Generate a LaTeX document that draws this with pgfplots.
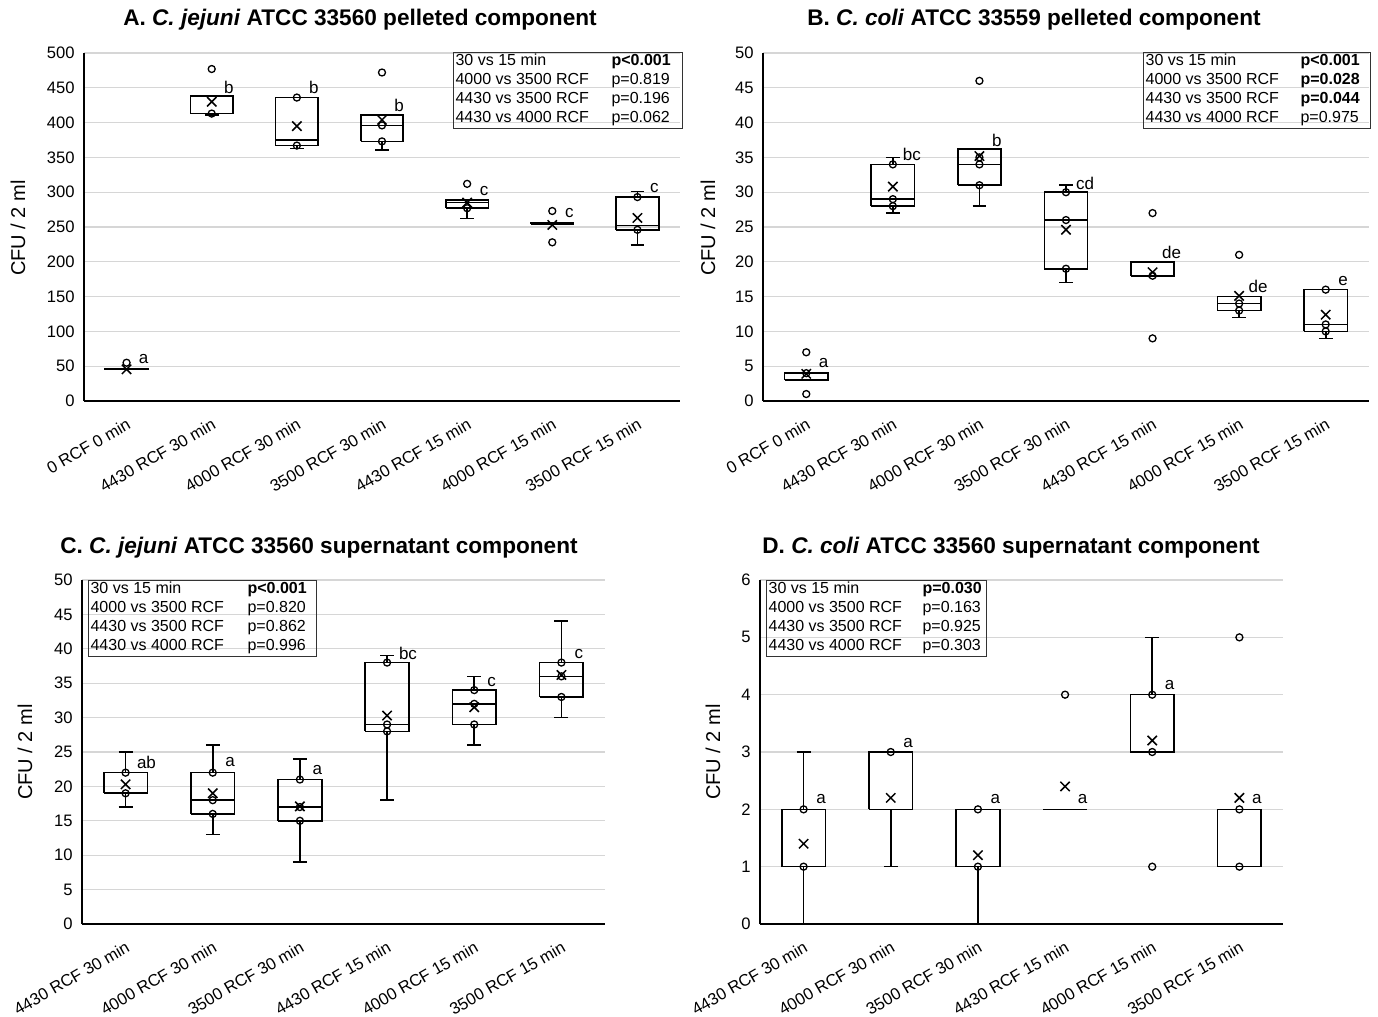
\documentclass[border=0pt]{standalone}
\usepackage{fontspec}
\setmainfont{Liberation Sans}
\usepackage{pgfplots}
\pgfplotsset{compat=1.18}

\pgfplotsset{
 cfubox/.style={
  scale only axis,
  axis x line=bottom, axis y line=left,
  axis line style={-, black, line width=0.7pt},
  ymajorgrids, grid style={black!16, line width=0.6pt},
  major tick length=0pt,
  xtick={0,...,6},
  ticklabel style={font=\fontsize{8.3}{10}\selectfont},
  /pgf/number format/assume math mode=true,
  xticklabel style={yshift=-6.5pt, rotate=30, anchor=north east, inner sep=1pt},
  yticklabel style={inner sep=2pt, xshift=-2.5pt},
  unbounded coords=jump,
  clip=false,
 },
 bl/.style={black, line width=0.8pt, solid, mark=none},
 pts/.style={only marks, mark=o, mark size=1.75pt, black, line width=0.65pt},
 mean/.style={only marks, mark=x, mark size=3.3pt, black, line width=0.75pt},
}
\tikzset{lt/.style={font=\fontsize{8.5}{10}\selectfont, inner sep=0pt, anchor=center}}
% box: #1 position, #2 lower whisker, #3 lower quartile, #4 median, #5 upper quartile, #6 upper whisker
\newcommand\bp[6]{\addplot[bl, x filter/.expression={x+#1}] coordinates {(-0.25,#3) (0.25,#3) (0.25,#5) (-0.25,#5) (-0.25,#3) (-0.25,nan) (-0.25,#4) (0.25,#4) (0,nan) (0,#3) (0,#2) (0,nan) (0,#5) (0,#6)};}
% whisker caps: #1 position, #2 value
\newcommand\cp[2]{\addplot[bl, x filter/.expression={x+#1}] coordinates {(-0.08,#2) (0.08,#2)};}
\newcommand\ptabx[4]{\node[draw=black!80, line width=0.6pt, inner sep=0pt, anchor=north west, font=\fontsize{8}{9.5}\selectfont, align=left] at #3 {\begin{tabular}{@{\hspace{1pt}}p{#1}@{}p{#2}@{}}#4\end{tabular}};}

\begin{document}
\begin{tikzpicture}
\useasboundingbox (0,0) rectangle (689pt,-508.5pt);

% ---------------- Panel A ----------------
\begin{axis}[cfubox, at={(42pt,-200.5pt)}, anchor=south west,
  width=298pt, height=174pt, xmin=-0.5, xmax=6.5, ymin=0, ymax=500, ytick={0,50,...,500},
  xticklabels={0 RCF 0 min, 4430 RCF 30 min, 4000 RCF 30 min, 3500 RCF 30 min, 4430 RCF 15 min, 4000 RCF 15 min, 3500 RCF 15 min}]
\bp{0}{45}{45}{45.5}{46}{46}
\bp{1}{411}{413}{413}{438}{438} \cp{1}{411}
\bp{2}{363}{367}{375}{436}{436} \cp{2}{363}
\bp{3}{361}{373}{396}{411}{411} \cp{3}{361}
\bp{4}{262}{277}{285}{289}{289} \cp{4}{262}
\bp{5}{254}{254}{255}{256}{256}
\bp{6}{224}{246}{252}{293}{301} \cp{6}{224} \cp{6}{301}
\addplot[pts] coordinates {(0,55) (1,477) (1,413) (2,436) (2,367) (3,472) (3,396) (3,373) (4,312) (4,277) (5,273) (5,228) (6,293) (6,246)};
\addplot[mean] coordinates {(0,45.5) (1,430) (2,395) (3,404) (4,285) (5,253) (6,263)};
\node[lt] at (axis cs:0.2,60) {a};
\node[lt] at (axis cs:1.2,450) {b};
\node[lt] at (axis cs:2.2,450) {b};
\node[lt] at (axis cs:3.2,425) {b};
\node[lt] at (axis cs:4.2,302) {c};
\node[lt] at (axis cs:5.2,270) {c};
\node[lt] at (axis cs:6.2,306) {c};
\end{axis}

% ---------------- Panel B ----------------
\begin{axis}[cfubox, at={(381.5pt,-200.5pt)}, anchor=south west,
  width=303pt, height=174pt, xmin=-0.5, xmax=6.5, ymin=0, ymax=50, ytick={0,5,...,50},
  xticklabels={0 RCF 0 min, 4430 RCF 30 min, 4000 RCF 30 min, 3500 RCF 30 min, 4430 RCF 15 min, 4000 RCF 15 min, 3500 RCF 15 min}]
\bp{0}{3}{3}{4}{4}{4}
\bp{1}{27}{28}{29}{34}{35} \cp{1}{27} \cp{1}{35}
\bp{2}{28}{31}{34}{36.2}{36.2} \cp{2}{28}
\bp{3}{17}{19}{26}{30}{31} \cp{3}{17} \cp{3}{31}
\bp{4}{18}{18}{18}{20}{20}
\bp{5}{12}{13}{14}{15}{15} \cp{5}{12}
\bp{6}{9}{10}{11}{16}{16} \cp{6}{9}
\addplot[pts] coordinates {(0,7) (0,4) (0,1) (1,34) (1,29) (1,28) (2,46) (2,35) (2,34) (2,31) (3,30) (3,26) (3,19) (4,27) (4,18) (4,9) (5,21) (5,14) (5,13) (6,16) (6,11) (6,10)};
\addplot[mean] coordinates {(0,3.9) (1,30.8) (2,35.2) (3,24.6) (4,18.5) (5,15.1) (6,12.4)};
\node[lt] at (axis cs:0.2,5.45) {a};
\node[lt] at (axis cs:1.22,35.5) {bc};
\node[lt] at (axis cs:2.2,37.5) {b};
\node[lt] at (axis cs:3.22,31.3) {cd};
\node[lt] at (axis cs:4.22,21.4) {de};
\node[lt] at (axis cs:5.22,16.4) {de};
\node[lt] at (axis cs:6.2,17.2) {e};
\end{axis}

% ---------------- Panel C ----------------
\begin{axis}[cfubox, at={(41pt,-462pt)}, anchor=south west,
  width=261.5pt, height=172pt, xmin=-0.5, xmax=5.5, ymin=0, ymax=50, ytick={0,5,...,50}, xtick={0,...,5},
  xticklabels={4430 RCF 30 min, 4000 RCF 30 min, 3500 RCF 30 min, 4430 RCF 15 min, 4000 RCF 15 min, 3500 RCF 15 min}]
\bp{0}{17}{19}{19}{22}{25} \cp{0}{17} \cp{0}{25}
\bp{1}{13}{16}{18}{22}{26} \cp{1}{13} \cp{1}{26}
\bp{2}{9}{15}{17}{21}{24} \cp{2}{9} \cp{2}{24}
\bp{3}{18}{28}{29}{38}{39} \cp{3}{18} \cp{3}{39}
\bp{4}{26}{29}{32}{34}{36} \cp{4}{26} \cp{4}{36}
\bp{5}{30}{33}{36}{38}{44} \cp{5}{30} \cp{5}{44}
\addplot[pts] coordinates {(0,22) (0,19) (1,22) (1,18) (1,16) (2,21) (2,17) (2,15) (3,38) (3,29) (3,28) (4,34) (4,32) (4,29) (5,38) (5,36) (5,33)};
\addplot[mean] coordinates {(0,20.3) (1,19) (2,17.1) (3,30.3) (4,31.5) (5,36.2)};
\node[lt] at (axis cs:0.24,23.5) {ab};
\node[lt] at (axis cs:1.2,23.5) {a};
\node[lt] at (axis cs:2.2,22.4) {a};
\node[lt] at (axis cs:3.24,39.4) {bc};
\node[lt] at (axis cs:4.2,35.2) {c};
\node[lt] at (axis cs:5.2,39.2) {c};
\end{axis}

% ---------------- Panel D ----------------
\begin{axis}[cfubox, at={(380pt,-462pt)}, anchor=south west,
  width=261.5pt, height=172pt, xmin=-0.5, xmax=5.5, ymin=0, ymax=6, ytick={0,1,...,6}, xtick={0,...,5},
  xticklabels={4430 RCF 30 min, 4000 RCF 30 min, 3500 RCF 30 min, 4430 RCF 15 min, 4000 RCF 15 min, 3500 RCF 15 min}]
\bp{0}{0}{1}{1}{2}{3} \cp{0}{3}
\bp{1}{1}{2}{2}{3}{3} \cp{1}{1}
\bp{2}{0}{1}{1}{2}{2}
\bp{3}{2}{2}{2}{2}{2}
\bp{4}{3}{3}{3}{4}{5} \cp{4}{5}
\bp{5}{1}{1}{2}{2}{2}
\addplot[pts] coordinates {(0,2) (0,1) (1,3) (2,2) (2,1) (3,4) (4,4) (4,3) (4,1) (5,5) (5,2) (5,1)};
\addplot[mean] coordinates {(0,1.4) (1,2.2) (2,1.2) (3,2.4) (4,3.2) (5,2.2)};
\node[lt] at (axis cs:0.2,2.18) {a};
\node[lt] at (axis cs:1.2,3.16) {a};
\node[lt] at (axis cs:2.2,2.18) {a};
\node[lt] at (axis cs:3.2,2.18) {a};
\node[lt] at (axis cs:4.2,4.17) {a};
\node[lt] at (axis cs:5.2,2.18) {a};
\end{axis}

% titles
\node[font=\fontsize{11.3}{13}\selectfont\bfseries] at (180pt,-10pt) {A. \textit{C. jejuni} ATCC 33560 pelleted component};
\node[font=\fontsize{11.3}{13}\selectfont\bfseries] at (517pt,-10pt) {B. \textit{C. coli} ATCC 33559 pelleted component};
\node[font=\fontsize{11.3}{13}\selectfont\bfseries] at (159.5pt,-274pt) {C. \textit{C. jejuni} ATCC 33560 supernatant component};
\node[font=\fontsize{11.3}{13}\selectfont\bfseries] at (505.5pt,-274pt) {D. \textit{C. coli} ATCC 33560 supernatant component};
% y labels
\node[rotate=90, font=\fontsize{10}{12}\selectfont] at (9pt,-114pt) {CFU / 2 ml};
\node[rotate=90, font=\fontsize{10}{12}\selectfont] at (354pt,-114pt) {CFU / 2 ml};
\node[rotate=90, font=\fontsize{10}{12}\selectfont] at (12.5pt,-376pt) {CFU / 2 ml};
\node[rotate=90, font=\fontsize{10}{12}\selectfont] at (356.5pt,-376pt) {CFU / 2 ml};
% p-value boxes
\ptabx{78pt}{35.5pt}{(226.5pt,-26pt)}{30 vs 15 min & \textbf{p<0.001}\\ 4000 vs 3500 RCF & p=0.819\\ 4430 vs 3500 RCF & p=0.196\\ 4430 vs 4000 RCF & p=0.062}
\ptabx{77.5pt}{35pt}{(571.5pt,-26pt)}{30 vs 15 min & \textbf{p<0.001}\\ 4000 vs 3500 RCF & \textbf{p=0.028}\\ 4430 vs 3500 RCF & \textbf{p=0.044}\\ 4430 vs 4000 RCF & p=0.975}
\ptabx{78.5pt}{34.5pt}{(44pt,-290pt)}{30 vs 15 min & \textbf{p<0.001}\\ 4000 vs 3500 RCF & p=0.820\\ 4430 vs 3500 RCF & p=0.862\\ 4430 vs 4000 RCF & p=0.996}
\ptabx{77pt}{32pt}{(383pt,-290pt)}{30 vs 15 min & \textbf{p=0.030}\\ 4000 vs 3500 RCF & p=0.163\\ 4430 vs 3500 RCF & p=0.925\\ 4430 vs 4000 RCF & p=0.303}
\end{tikzpicture}
\end{document}
